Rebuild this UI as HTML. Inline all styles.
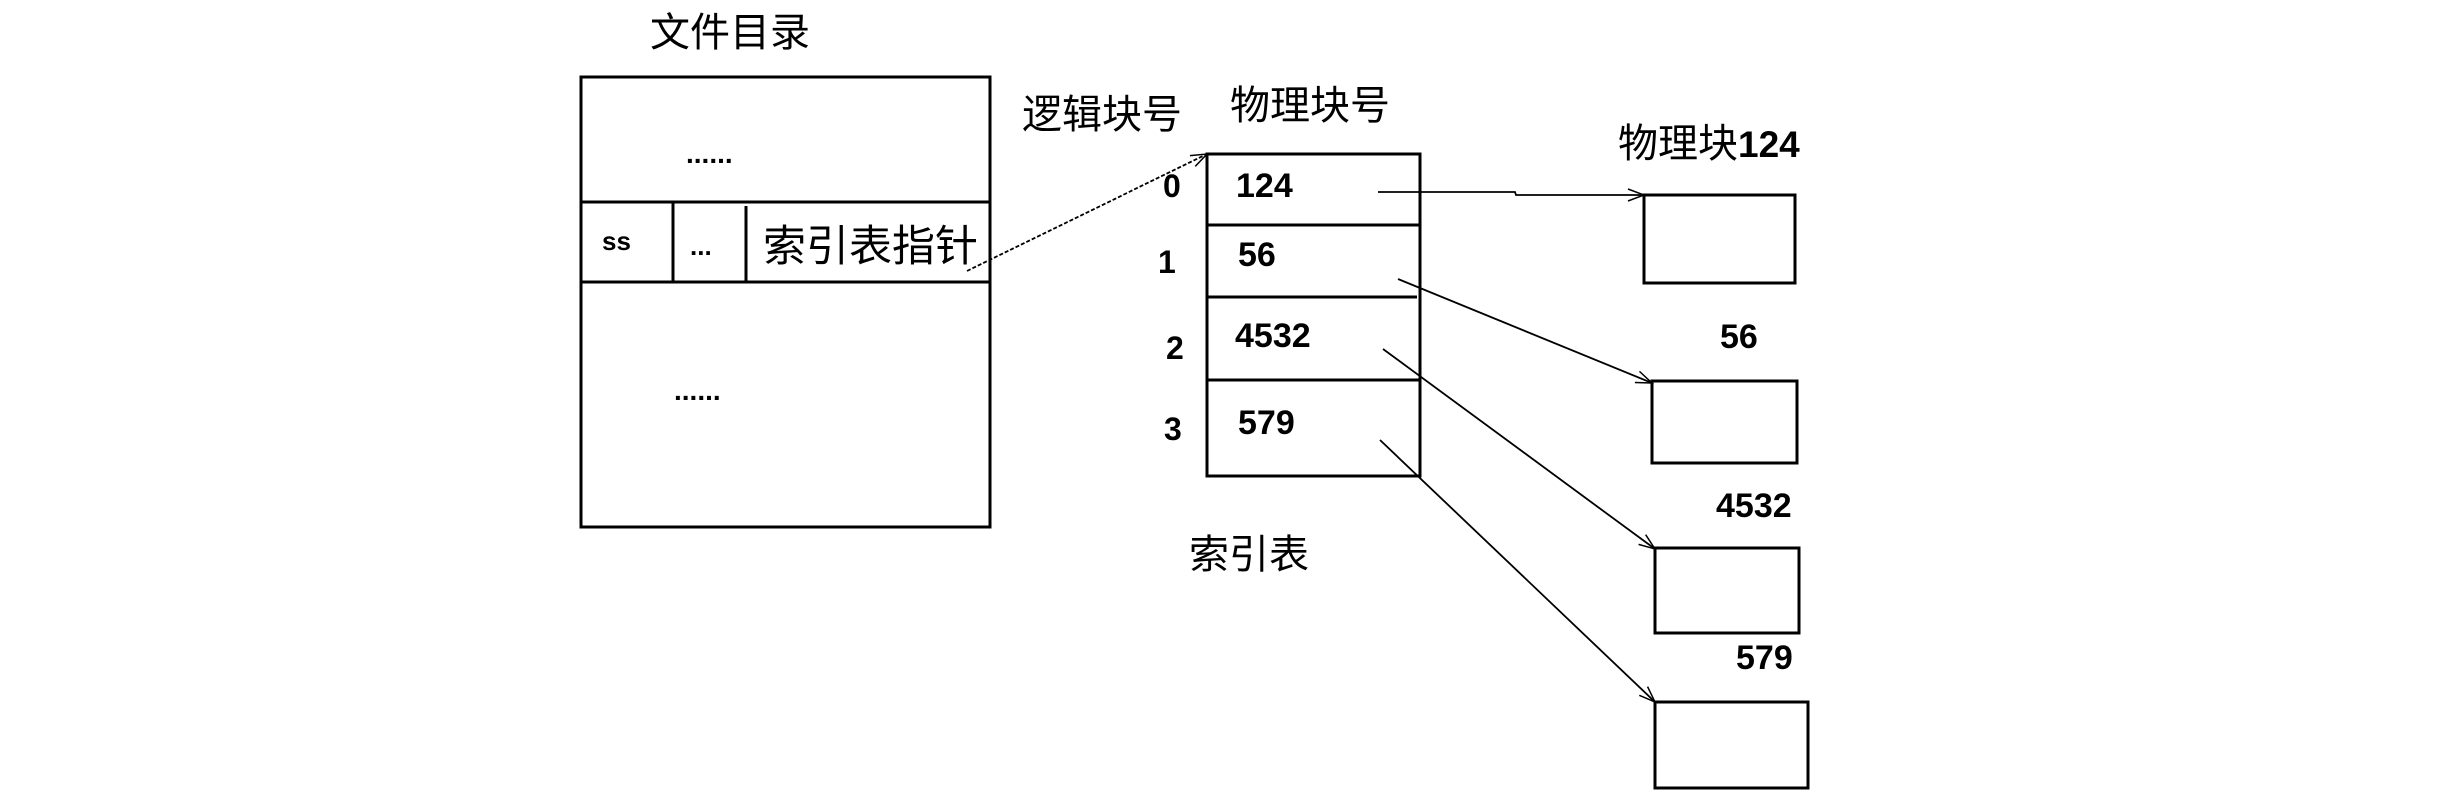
<!DOCTYPE html>
<html><head><meta charset="utf-8"><style>
html,body{margin:0;padding:0;background:#fff;}
svg{display:block}
.cj{font-family:"Liberation Sans","Noto Sans CJK SC",sans-serif;font-size:40px;fill:#000}
.n{font-family:"Liberation Sans",sans-serif;font-weight:bold;font-size:32px;fill:#000}
</style></head><body>
<svg width="2464" height="796" viewBox="0 0 2464 796" xmlns="http://www.w3.org/2000/svg">
<defs>
<marker id="a" markerWidth="20" markerHeight="16" refX="18" refY="8" orient="auto" markerUnits="userSpaceOnUse">
<path d="M2,2 L18,8 L2,14" fill="none" stroke="#000" stroke-width="1.5"/>
</marker>
</defs>
<g fill="none" stroke="#000" stroke-width="3">
<rect x="581" y="77" width="409" height="450"/>
<line x1="581" y1="202" x2="990" y2="202"/>
<line x1="581" y1="282" x2="990" y2="282"/>
<line x1="673" y1="202" x2="673" y2="282"/>
<line x1="746" y1="206" x2="746" y2="282"/>
<rect x="1207" y="154" width="213" height="322"/>
<line x1="1207" y1="225" x2="1420" y2="225"/>
<line x1="1207" y1="297" x2="1417" y2="297"/>
<line x1="1207" y1="380" x2="1420" y2="380"/>
<rect x="1644" y="195" width="151" height="88"/>
<rect x="1652" y="381" width="145" height="82"/>
<rect x="1655" y="548" width="144" height="85"/>
<rect x="1655" y="702" width="153" height="86"/>
</g>
<g stroke="#000" stroke-width="1.8" fill="none" marker-end="url(#a)">
<line x1="967" y1="271" x2="1207" y2="154" stroke-dasharray="4 2"/>
<polyline points="1378,192 1515,192 1516,195 1644,195"/>
<line x1="1398" y1="279" x2="1652" y2="383"/>
<line x1="1383" y1="349" x2="1655" y2="549"/>
<line x1="1380" y1="440" x2="1655" y2="702"/>
</g>
<text class="cj" x="650" y="46">文件目录</text>
<text class="n" x="686" y="163" style="font-size:28px">......</text>
<text class="n" x="674" y="400" style="font-size:28px">......</text>
<text class="n" x="602" y="250" style="font-size:26px">ss</text>
<text class="n" x="690" y="255" style="font-size:26px">...</text>
<text class="cj" x="763" y="261" style="font-size:43px">索引表指针</text>
<text class="cj" x="1022" y="128">逻辑块号</text>
<text class="cj" x="1230" y="119">物理块号</text>
<text class="cj" x="1189" y="568">索引表</text>
<text class="n" x="1163" y="197">0</text>
<text class="n" x="1158" y="273">1</text>
<text class="n" x="1166" y="359">2</text>
<text class="n" x="1164" y="440">3</text>
<text class="n" x="1236" y="197" style="font-size:34px">124</text>
<text class="n" x="1238" y="266" style="font-size:34px">56</text>
<text class="n" x="1235" y="347" style="font-size:34px">4532</text>
<text class="n" x="1238" y="434" style="font-size:34px">579</text>
<text class="cj" x="1618" y="157" style="font-size:40px">物理块<tspan style="font-weight:bold;font-size:37px">124</tspan></text>
<text class="n" x="1720" y="348" style="font-size:34px">56</text>
<text class="n" x="1716" y="517" style="font-size:34px">4532</text>
<text class="n" x="1736" y="669" style="font-size:34px">579</text>
</svg>
</body></html>
